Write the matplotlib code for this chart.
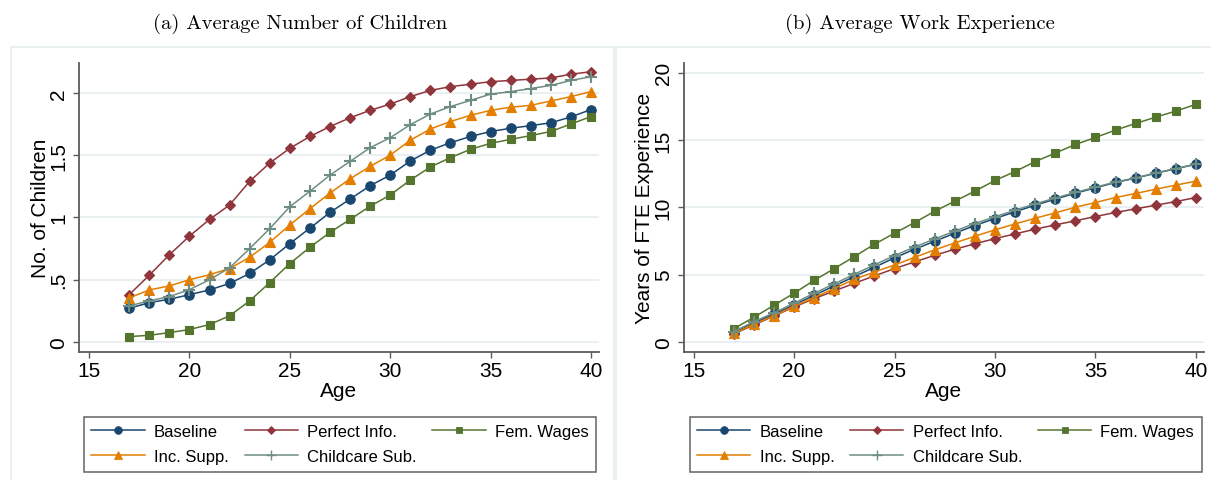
import matplotlib
matplotlib.use("Agg")
import matplotlib.pyplot as plt
from matplotlib.patches import Rectangle
from matplotlib.lines import Line2D

# ---- data -------------------------------------------------------------
ages = list(range(17, 41))

series_names = ["Baseline", "Perfect Info.", "Fem. Wages", "Inc. Supp.", "Childcare Sub."]

# Average number of children by age
kids_baseline = [0.27, 0.316, 0.343, 0.38, 0.418, 0.47, 0.55, 0.66, 0.79, 0.914, 1.04, 1.147,
                 1.255, 1.34, 1.453, 1.54, 1.60, 1.65, 1.69, 1.716, 1.737, 1.76, 1.807, 1.866]
kids_perfect = [0.38, 0.536, 0.70, 0.85, 0.984, 1.10, 1.29, 1.437, 1.555, 1.65, 1.73, 1.80,
                1.86, 1.91, 1.97, 2.02, 2.05, 2.07, 2.09, 2.10, 2.11, 2.12, 2.15, 2.17]
kids_femwage = [0.043, 0.054, 0.075, 0.10, 0.14, 0.21, 0.33, 0.477, 0.63, 0.76, 0.88, 0.984,
                1.09, 1.18, 1.30, 1.405, 1.48, 1.547, 1.595, 1.627, 1.657, 1.69, 1.75, 1.81]
kids_incsupp = [0.354, 0.418, 0.45, 0.50, 0.54, 0.59, 0.68, 0.80, 0.94, 1.07, 1.195, 1.31,
                1.41, 1.50, 1.62, 1.71, 1.77, 1.82, 1.86, 1.885, 1.90, 1.935, 1.97, 2.01]
kids_childcare = [0.29, 0.33, 0.365, 0.42, 0.50, 0.595, 0.75, 0.91, 1.086, 1.21, 1.34, 1.45,
                  1.56, 1.64, 1.745, 1.83, 1.89, 1.94, 1.99, 2.01, 2.035, 2.06, 2.10, 2.13]

# Average years of full-time-equivalent work experience by age
exp_baseline = [0.69, 1.41, 2.06, 2.75, 3.47, 4.16, 4.86, 5.55, 6.25, 6.89, 7.48, 8.08,
                8.65, 9.17, 9.67, 10.16, 10.61, 11.05, 11.45, 11.85, 12.17, 12.54, 12.86, 13.21]
exp_perfect = [0.60, 1.26, 1.93, 2.60, 3.22, 3.79, 4.36, 4.91, 5.45, 5.95, 6.44, 6.89,
               7.29, 7.68, 8.03, 8.38, 8.70, 9.00, 9.32, 9.62, 9.89, 10.16, 10.43, 10.73]
exp_femwage = [0.99, 1.83, 2.73, 3.62, 4.58, 5.45, 6.34, 7.26, 8.08, 8.87, 9.71, 10.46,
               11.2, 12.0, 12.66, 13.4, 14.03, 14.67, 15.19, 15.74, 16.23, 16.70, 17.15, 17.65]
exp_incsupp = [0.64, 1.31, 1.96, 2.65, 3.30, 3.97, 4.66, 5.20, 5.72, 6.29, 6.84, 7.36,
               7.86, 8.33, 8.77, 9.19, 9.59, 10.01, 10.36, 10.73, 11.03, 11.35, 11.65, 11.95]
exp_childcare = [0.78, 1.50, 2.17, 2.88, 3.62, 4.32, 5.03, 5.73, 6.42, 7.06, 7.65, 8.24,
                 8.80, 9.30, 9.79, 10.26, 10.69, 11.11, 11.50, 11.88, 12.19, 12.56, 12.88, 13.22]

x_ticks = [15, 20, 25, 30, 35, 40]
kids_ticks = [0, 0.5, 1, 1.5, 2]
kids_ticklabels = ["0", ".5", "1", "1.5", "2"]
exp_ticks = [0, 5, 10, 15, 20]
exp_ticklabels = ["0", "5", "10", "15", "20"]

panel_titles = ["(a) Average Number of Children", "(b) Average Work Experience"]
y_labels = ["No. of Children", "Years of FTE Experience"]
x_label = "Age"

# ---- styling ------------------------------------------------------------
colors = ["#1a476f", "#90353b", "#55752f", "#e37e00", "#6e8e84"]
markers = ["o", "D", "s", "^", "+"]
msizes = [6.8, 5.2, 5.3, 6.6, 8.5]
leg_msizes = [5.5, 4.2, 4.6, 5.5, 7.5]

plt.rcParams["font.family"] = ["Liberation Sans", "DejaVu Sans"]
AX_COL = "#5b5b5b"
GRID_COL = "#e8eff1"
FRAME_COL = "#e6edef"

W, H = 1211, 481
fig = plt.figure(figsize=(W / 100, H / 100), dpi=100)


def fx(px):
    return px / W


def fy(py):
    return 1 - py / H


# light frames around each panel's graph region
fig.patches.append(Rectangle((fx(11), fy(490)), fx(603), fy(48) - fy(490),
                             transform=fig.transFigure, fill=False,
                             edgecolor=FRAME_COL, lw=1.2))
fig.patches.append(Rectangle((fx(616), fy(490)), fx(610), fy(48) - fy(490),
                             transform=fig.transFigure, fill=False,
                             edgecolor=FRAME_COL, lw=1.2))

panels = [
    dict(x0=79, x1=599, data=[kids_baseline, kids_perfect, kids_femwage, kids_incsupp, kids_childcare],
         ylim=(-0.078, 2.24), yt=kids_ticks, ytl=kids_ticklabels, title_x=300,
         leg_x=84),
    dict(x0=683.5, x1=1204, data=[exp_baseline, exp_perfect, exp_femwage, exp_incsupp, exp_childcare],
         ylim=(-0.72, 20.72), yt=exp_ticks, ytl=exp_ticklabels, title_x=920,
         leg_x=689.5),
]

for i, p in enumerate(panels):
    ax = fig.add_axes([fx(p["x0"]), fy(352.7), fx(p["x1"] - p["x0"]), fy(64) - fy(352.7)])
    ax.set_facecolor("white")
    ax.set_xlim(14.5, 40.4)
    ax.set_ylim(*p["ylim"])

    for yv in p["yt"]:
        ax.axhline(yv, color=GRID_COL, lw=1.3, zorder=0)

    handles = []
    for vals, c, m, ms, lms, name in zip(p["data"], colors, markers, msizes, leg_msizes, series_names):
        ax.plot(ages, vals, color=c, lw=1.1, marker=m, ms=ms, mec=c, mfc=c,
                mew=1.5 if m == "+" else 0.8, zorder=3)
        handles.append(Line2D([], [], color=c, lw=1.1, marker=m, ms=lms, mec=c, mfc=c,
                              mew=1.0 if m == "+" else 0.6))

    for side in ("top", "right"):
        ax.spines[side].set_visible(False)
    for side in ("left", "bottom"):
        ax.spines[side].set_color(AX_COL)
        ax.spines[side].set_linewidth(1.3)

    ax.set_xticks(x_ticks)
    ax.set_xticklabels([str(t) for t in x_ticks])
    ax.set_yticks(p["yt"])
    ax.set_yticklabels(p["ytl"], rotation=90, va="center")
    ax.tick_params(axis="both", direction="out", length=4.2, width=1.0, color=AX_COL,
                   labelsize=15, labelcolor="black")
    ax.tick_params(axis="x", pad=2.2)
    ax.tick_params(axis="y", pad=3.5)

    ax.set_xlabel(x_label, fontsize=15, labelpad=1)
    ax.set_ylabel(y_labels[i], fontsize=15)
    ax.yaxis.set_label_coords(-0.0558, 0.5)

    fig.text(fx(p["title_x"]), fy(23.5), panel_titles[i], ha="center", va="center",
             fontsize=14.8, family=["cmr10", "DejaVu Serif"])

    order = [0, 3, 1, 4, 2]
    leg = ax.legend([handles[k] for k in order], [series_names[k] for k in order],
                    ncol=3, loc="upper left",
                    bbox_to_anchor=(fx(p["leg_x"]), fy(417.5)),
                    bbox_transform=fig.transFigure, borderaxespad=0,
                    fontsize=12, handlelength=3.2, handletextpad=0.55,
                    columnspacing=0.95, labelspacing=0.6, borderpad=0.45,
                    fancybox=False, frameon=True, edgecolor="#3c3c3c")
    leg.get_frame().set_linewidth(1.1)

fig.savefig("out.png", dpi=100, facecolor="white")
